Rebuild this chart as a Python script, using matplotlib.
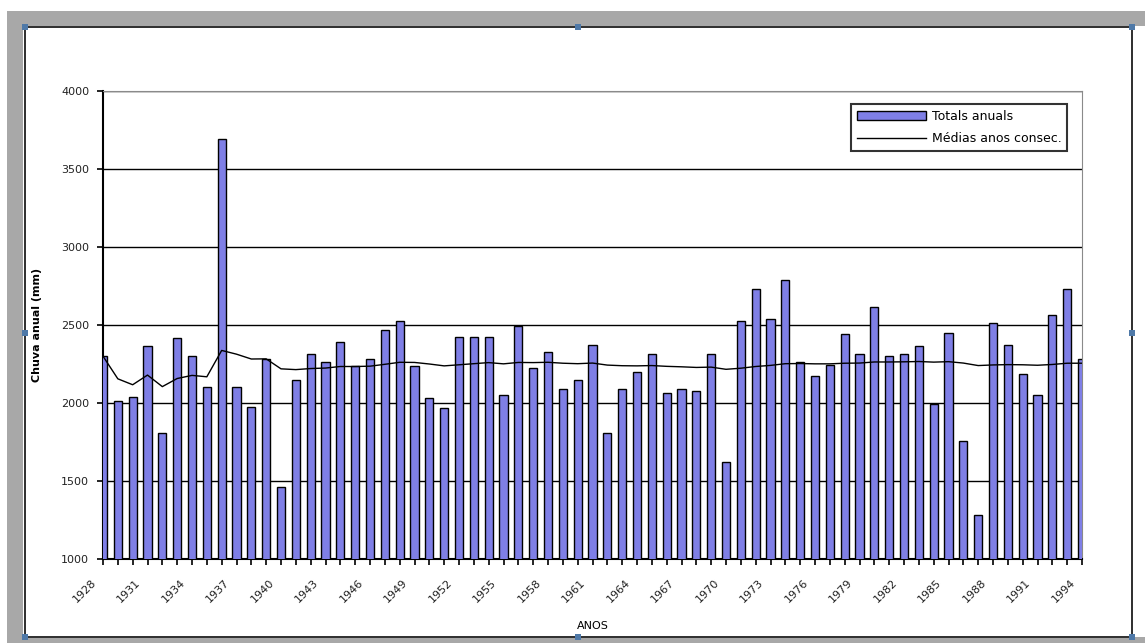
import matplotlib.pyplot as plt
import matplotlib.transforms as mtransforms
from matplotlib.patches import Rectangle

anos = list(range(1928, 1995))

# totais anuais de chuva (mm)
totais = [2300, 2010, 2040, 2365, 1810, 2415, 2300, 2100, 3690, 2100,
          1975, 2285, 1460, 2150, 2315, 2265, 2390, 2235, 2280, 2465,
          2525, 2235, 2035, 1965, 2425, 2425, 2425, 2050, 2495, 2225,
          2325, 2090, 2150, 2375, 1810, 2090, 2200, 2315, 2065, 2090,
          2075, 2315, 1620, 2525, 2730, 2540, 2790, 2265, 2175, 2245,
          2440, 2315, 2615, 2300, 2315, 2365, 1995, 2450, 1755, 1285,
          2515, 2375, 2185, 2050, 2565, 2730, 2280]

# medias dos anos consecutivos (linha preta)
medias = [2300, 2155, 2117, 2179, 2105, 2157, 2177, 2168, 2337, 2313,
          2282, 2283, 2219, 2214, 2221, 2224, 2234, 2234, 2236, 2248,
          2261, 2260, 2250, 2238, 2245, 2252, 2259, 2251, 2260, 2259,
          2261, 2255, 2252, 2256, 2243, 2239, 2238, 2240, 2235, 2232,
          2228, 2230, 2216, 2223, 2234, 2241, 2252, 2253, 2251, 2251,
          2255, 2256, 2263, 2263, 2264, 2266, 2262, 2265, 2256, 2240,
          2244, 2246, 2245, 2242, 2247, 2255, 2255]

plt.rcParams['font.family'] = ['DejaVu Sans']

W, H = 1145, 643
fig = plt.figure(figsize=(W / 100, H / 100), dpi=100)
fig.patch.set_facecolor('white')


def px(x, y, w, h, z=-10, **kw):
    # retangulo em pixels da figura (origem no canto superior esquerdo)
    r = Rectangle((x / W, 1 - (y + h) / H), w / W, h / H,
                  transform=fig.transFigure, zorder=z, **kw)
    fig.add_artist(r)


# moldura cinza da janela do Excel
px(7, 11, W - 7, 15, facecolor='#a8a8a8', edgecolor='none')
px(7, 11, 16, H - 11, facecolor='#a8a8a8', edgecolor='none')
px(7, 637, W - 7, 6, facecolor='#a8a8a8', edgecolor='none')
px(23, 26, 1110, 2, facecolor='#333333', edgecolor='none')
px(1131, 26, 2, 611, facecolor='#333333', edgecolor='none')
px(23, 636, 1110, 2, facecolor='#333333', edgecolor='none')
px(24, 26, 2, 611, facecolor='#333333', edgecolor='none')
for hx, hy in [(25, 27), (578, 27), (1132, 27), (25, 333), (1132, 333),
               (25, 637), (578, 637), (1132, 637)]:
    px(hx - 3, hy - 3, 6, 6, z=-5, facecolor='#4f79a8', edgecolor='none')

ax = fig.add_axes([103 / W, 1 - 559 / H, (1082 - 103) / W, (559 - 91) / H])
ax.set_zorder(2)
x = list(range(len(anos)))
barras = ax.bar(x, totais, width=0.55, color='#7f7fe6', edgecolor='black',
                linewidth=1, zorder=3)
linha, = ax.plot(x, medias, color='black', linewidth=1, zorder=4)

ax.set_xlim(0, len(anos) - 1)
ax.set_ylim(1000, 4000)
ax.set_yticks([1000, 1500, 2000, 2500, 3000, 3500, 4000])
ax.yaxis.grid(True, color='black', linewidth=1)
ax.set_axisbelow(True)

ax.set_xticks(x[::3])
ax.set_xticklabels([str(a) for a in anos[::3]], rotation=45, ha='right',
                   rotation_mode='anchor', fontsize=8, color='#222222')
ax.set_xticks(x, minor=True)
ax.tick_params(axis='x', which='both', direction='out', length=4,
               width=1.2, pad=9)
ax.tick_params(axis='y', direction='out', length=4, width=1.2,
               labelsize=8, labelcolor='#222222', pad=6)
desloc = mtransforms.ScaledTranslation(-0.12, 0, fig.dpi_scale_trans)
for lab in ax.get_xticklabels():
    lab.set_transform(lab.get_transform() + desloc)

for s in ['top', 'right']:
    ax.spines[s].set_color('#8a8a8a')
for s in ['left', 'bottom']:
    ax.spines[s].set_color('black')
    ax.spines[s].set_linewidth(1.5)

ax.set_ylabel('Chuva anual (mm)', fontsize=8, fontweight='bold', labelpad=14)
ax.set_xlabel('ANOS', fontsize=8, labelpad=12)

leg = ax.legend([barras, linha], ['Totals anuals', 'Médias anos consec.'],
                loc='upper right', bbox_to_anchor=(0.985, 0.972),
                fontsize=9, frameon=True, fancybox=False,
                handlelength=5.5, handletextpad=0.5, borderpad=0.45,
                labelspacing=0.75, borderaxespad=0)
leg.get_frame().set_edgecolor('black')
leg.get_frame().set_linewidth(1.5)

fig.savefig('out.png', dpi=100)
